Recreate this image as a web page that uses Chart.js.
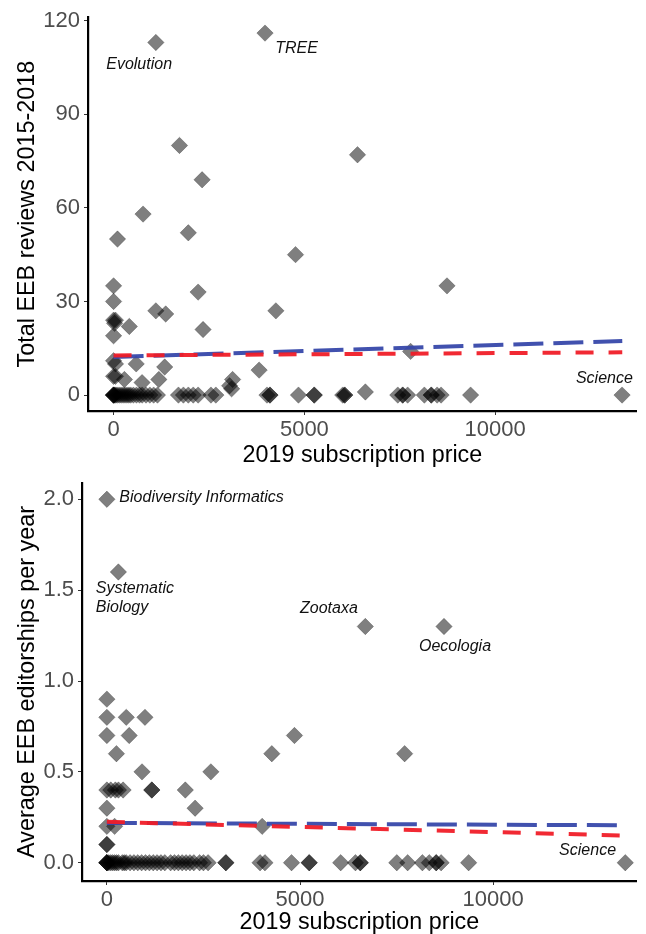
<!DOCTYPE html>
<html>
<head>
<meta charset="utf-8">
<script src="https://cdn.jsdelivr.net/npm/chart.js@4/dist/chart.umd.min.js"></script>
<style>
  html, body { margin: 0; padding: 0; background: #fff; }
  #wrap { position: relative; width: 646px; height: 934px; overflow: hidden; }
  #c1 { position: absolute; left: 0; top: 0; }
  #c2 { position: absolute; left: 0; top: 460px; }
</style>
</head>
<body>
<div id="wrap">
  <canvas id="c1" width="646" height="470"></canvas>
  <canvas id="c2" width="646" height="474"></canvas>
</div>
<script>
// ---------- DATA ----------
// Top panel: 2019 subscription price vs total EEB reviews 2015-2018
const reviewPrice = [
  1108, 3969, 1727, 2320, 6392, 773, 103, 1959, 4768, 8737,
  0, 0, 2216, 1108, 1366, 4253, 412, 2345, 0, 26,
  50, 0, 0, 50, 593, 1340, 0, 50, 284, 747,
  1186, 3119, 3041, 3093, 3814, 7784, 6598,
  0, 0, 0, 0, 30, 60, 100, 150, 200, 250, 300, 350, 400, 450, 520, 600, 680, 750, 850, 950, 1050, 1150,
  1700, 1830, 1959, 2088, 2216, 2552, 2680, 4020, 4098, 4098, 4845, 5258, 5258, 6005, 6057, 6057,
  7448, 7577, 7577, 7706, 8144, 8325, 8325, 8479, 8582, 9356, 13325
];
const reviews = [
  113, 116, 80, 69, 77, 58, 50, 52, 45, 35,
  35, 30, 33, 27, 26, 27, 22, 21, 24, 23,
  24, 19, 11, 10, 10, 9, 6, 6, 5, 4,
  5, 5, 3, 2, 8, 14, 1,
  0, 0, 0, 0, 0, 0, 0, 0, 0, 0, 0, 0, 0, 0, 0, 0, 0, 0, 0, 0, 0, 0,
  0, 0, 0, 0, 0, 0, 0, 0, 0, 0, 0, 0, 0, 0, 0, 0,
  0, 0, 0, 0, 0, 0, 0, 0, 0, 0, 0
];
// Bottom panel: 2019 subscription price vs average EEB editorships per year
const editorPrice = [
  0, 298, 6690, 8727, 7708, 4856, 4270, 2692, 2030, 2284,
  1164, 1164, 910, 986, 502, 0, 0, 0, 578, 247,
  0, 100, 220, 300, 420, 0, 0, 200, 0, 0, 4020,
  0, 0, 0, 0, 50, 100, 150, 200, 250, 300, 400, 450, 500, 600, 700, 800, 900, 1000, 1100, 1200, 1300, 1400, 1500,
  1650, 1750, 1850, 1950, 2050, 2150, 2250, 2400, 2500, 2620, 3080, 3080,
  3965, 4092, 4780, 5238, 5238, 6053, 6435, 6560, 6560, 7505, 7786, 8168, 8346, 8525, 8525, 8652, 9365, 13420
];
const editorships = [
  2.0, 1.6, 1.3, 1.3, 0.6, 0.7, 0.6, 0.5, 0.4, 0.3,
  0.4, 0.4, 0.5, 0.8, 0.8, 0.8, 0.9, 0.7, 0.7, 0.6,
  0.4, 0.4, 0.4, 0.4, 0.4, 0.3, 0.2, 0.2, 0.1, 0.1, 0.2,
  0, 0, 0, 0, 0, 0, 0, 0, 0, 0, 0, 0, 0, 0, 0, 0, 0, 0, 0, 0, 0, 0, 0,
  0, 0, 0, 0, 0, 0, 0, 0, 0, 0, 0, 0,
  0, 0, 0, 0, 0, 0, 0, 0, 0, 0, 0, 0, 0, 0, 0, 0, 0, 0
];
// Fitted trend lines (endpoints at the price range)
const fitPrice = [0, 13330];
const reviewsFitBlue = [12.2, 17.3];
const reviewsFitRed = [12.7, 13.7];
const editorFitBlue = [0.219, 0.206];
const editorFitRed = [0.225, 0.150];
// Tick labels
const xTicks = [0, 5000, 10000];
const reviewTicks = [0, 30, 60, 90, 120];
const editorTicks = [0.0, 0.5, 1.0, 1.5, 2.0];
// Journal labels
const reviewLabels = ['Evolution', 'TREE', 'Science'];
const reviewLabelX = [670, 4794, 12861];
const reviewLabelY = [105.9, 111.2, 5.3];
const editorLabels = ['Biodiversity Informatics', 'Systematic', 'Biology', 'Zootaxa', 'Oecologia', 'Science'];
const editorLabelX = [323, -288, -288, 5748, 9012, 12444];
const editorLabelY = [2.009, 1.510, 1.406, 1.40, 1.187, 0.066];
const editorLabelAlign = ['left', 'left', 'left', 'center', 'center', 'center'];

// ---------- STYLE ----------
const FONT = '"Liberation Sans", Arial, Helvetica, sans-serif';
const pointFill = 'rgba(0,0,0,0.5)';
const pointBorder = 'rgba(0,0,0,0.25)';
const blue = 'rgba(55,72,170,0.95)';
const red = 'rgba(240,30,40,0.95)';

function pts(xs, ys) { return xs.map((x, i) => ({ x: x, y: ys[i] })); }

function labelPlugin(texts, xs, ys, aligns) {
  return {
    id: 'journalLabels',
    afterDatasetsDraw(chart) {
      const ctx = chart.ctx;
      ctx.save();
      ctx.font = 'italic 16px ' + FONT;
      ctx.fillStyle = '#111';
      ctx.textBaseline = 'middle';
      texts.forEach((t, i) => {
        ctx.textAlign = aligns ? aligns[i] : 'center';
        ctx.fillText(t, chart.scales.x.getPixelForValue(xs[i]), chart.scales.y.getPixelForValue(ys[i]));
      });
      ctx.restore();
    }
  };
}

function makeChart(canvasId, cfg) {
  const axisCommon = {
    border: { display: true, color: '#000', width: 2.2 },
    grid: { display: true, drawOnChartArea: false, drawTicks: true, tickLength: 4, color: '#333', lineWidth: 1 },
  };
  return new Chart(document.getElementById(canvasId), {
    type: 'scatter',
    data: {
      datasets: [
        {
          type: 'scatter',
          data: pts(cfg.px, cfg.py),
          pointStyle: 'rectRot',
          pointRadius: 8.2,
          pointHoverRadius: 8.2,
          backgroundColor: pointFill,
          borderColor: pointBorder,
          borderWidth: 1,
          order: 3
        },
        {
          type: 'line',
          data: pts(fitPrice, cfg.blue),
          borderColor: blue,
          borderWidth: 4,
          borderDash: [30, 10],
          pointRadius: 0,
          fill: false,
          order: 2
        },
        {
          type: 'line',
          data: pts(fitPrice, cfg.red),
          borderColor: red,
          borderWidth: 4,
          borderDash: [18, 15],
          pointRadius: 0,
          fill: false,
          order: 1
        }
      ]
    },
    options: {
      responsive: false,
      animation: false,
      events: [],
      layout: { padding: cfg.padding },
      plugins: { legend: { display: false }, tooltip: { enabled: false } },
      scales: {
        x: Object.assign({}, axisCommon, {
          type: 'linear',
          min: cfg.xmin, max: cfg.xmax,
          afterBuildTicks: s => { s.ticks = xTicks.map(v => ({ value: v })); },
          afterFit: s => { s.height = cfg.xHeight; },
          ticks: { color: '#4d4d4d', font: { family: FONT, size: 22 }, padding: 2, maxRotation: 0,
                   callback: v => String(v) },
          title: { display: true, text: '2019 subscription price', color: '#000',
                   font: { family: FONT, size: 23.3, lineHeight: 1.0 }, padding: { top: 0, bottom: cfg.xTitlePad } }
        }),
        y: Object.assign({}, axisCommon, {
          type: 'linear',
          min: cfg.ymin, max: cfg.ymax,
          afterBuildTicks: s => { s.ticks = cfg.yTicks.map(v => ({ value: v })); },
          afterFit: s => { s.width = cfg.yWidth; },
          ticks: { color: '#4d4d4d', font: { family: FONT, size: 22 }, padding: 4,
                   callback: cfg.yFmt },
          title: { display: true, text: cfg.yTitle, color: '#000',
                   font: { family: FONT, size: 23.4, lineHeight: 1.0 }, padding: { top: 16, bottom: 0 } }
        })
      }
    },
    plugins: [labelPlugin(cfg.labels, cfg.lx, cfg.ly, cfg.align)]
  });
}

makeChart('c1', {
  px: reviewPrice, py: reviews, blue: reviewsFitBlue, red: reviewsFitRed,
  xmin: -670, xmax: 13711, ymin: -5.1, ymax: 121.1,
  yTicks: reviewTicks, yFmt: v => String(v), yWidth: 88,
  yTitle: 'Total EEB reviews 2015-2018',
  xHeight: 59, xTitlePad: 3,
  padding: { top: 15, left: 0, right: 0, bottom: 0 },
  labels: reviewLabels, lx: reviewLabelX, ly: reviewLabelY, align: null
});

makeChart('c2', {
  px: editorPrice, py: editorships, blue: editorFitBlue, red: editorFitRed,
  xmin: -644, xmax: 13718, ymin: -0.1007, ymax: 2.0897,
  yTicks: editorTicks, yFmt: v => Number(v).toFixed(1), yWidth: 82,
  yTitle: 'Average EEB editorships per year',
  xHeight: 53, xTitlePad: 0,
  padding: { top: 23, left: 0, right: 0, bottom: 0 },
  labels: editorLabels, lx: editorLabelX, ly: editorLabelY, align: editorLabelAlign
});
</script>
</body>
</html>
